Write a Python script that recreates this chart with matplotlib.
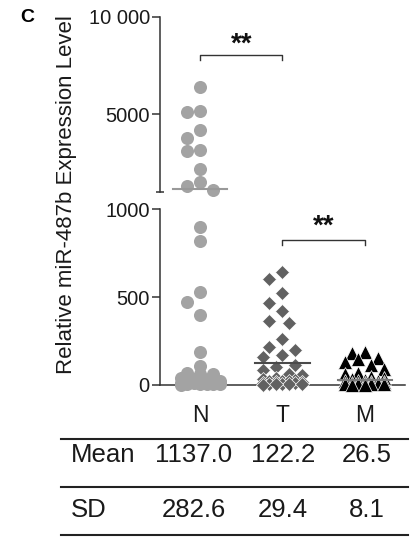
import matplotlib
matplotlib.use("Agg")
import matplotlib.pyplot as plt
import numpy as np
from matplotlib.lines import Line2D

plt.rcParams["font.family"] = ["Liberation Sans", "DejaVu Sans"]

# ── Data ──────────────────────────────────────────────────────────────────────
GROUPS = ["N", "T", "M"]
N_VALUES = [6400, 5150, 5100, 4200, 3800, 3150, 3100, 2200, 1500, 1300, 1100,
            900, 820, 530, 470, 400, 190, 110, 70, 65, 65, 40, 35, 30, 25, 20,
            18, 15, 12, 10, 8, 6, 5, 4, 3, 2]
T_VALUES = [640, 600, 520, 465, 420, 365, 350, 260, 215, 200, 170, 160, 115,
            100, 85, 60, 55, 40, 35, 30, 25, 22, 20, 18, 15, 12, 10, 8, 6, 5,
            4, 3, 2]
M_VALUES = [185, 182, 155, 150, 130, 115, 90, 70, 60, 45, 40, 35, 30, 25, 22,
            20, 18, 15, 12, 10, 8, 6, 5, 4, 3, 2, 1]
MEANS = [1137.0, 122.2, 26.5]
SDS = [282.6, 29.4, 8.1]
STAT_ROWS = ["Mean", "SD"]

UPPER_TICKS = [5000, 10000]
UPPER_TICK_LABELS = ["5000", "10 000"]
LOWER_TICKS = [0, 500, 1000]
BREAK_AT = 1000
Y_MAX = 10000

# ── Styling ───────────────────────────────────────────────────────────────────
W, H = 414, 544
AX_COLOR = "#333333"
TXT = "#1a1a1a"
STYLES = [
    dict(marker="o", ms=9.4, color="#a3a3a3", mec="none", mew=0),
    dict(marker="D", ms=7.6, color="#616161", mec="white", mew=0.5),
    dict(marker="^", ms=9.6, color="#000000", mec="white", mew=0.5),
]
MEAN_COLORS = ["#999999", "#4a4a4a", "#7a7a7a"]


def fx(x):
    return x / W


def fy(y):
    return 1 - y / H


def swarm_offsets(py, diam, step, half_w):
    """Greedy beeswarm in pixel space, allows overlap once the band is full."""
    cands = np.arange(-half_w, half_w + 1e-9, step)
    cands = cands[np.argsort(np.abs(cands), kind="stable")]
    offs = np.zeros(len(py))
    placed = []
    for i in np.argsort(-py):
        best, best_d = 0.0, -1.0
        for c in cands:
            d = min((np.hypot(c - ox, py[i] - oy) for ox, oy in placed), default=np.inf)
            if d >= diam:
                best = c
                break
            if d > best_d:
                best, best_d = c, d
        offs[i] = best
        placed.append((best, py[i]))
    return offs


fig = plt.figure(figsize=(W / 100, H / 100), dpi=100)
ax_hi = fig.add_axes([fx(160), fy(192), 245 / W, 175 / H])
ax_lo = fig.add_axes([fx(160), fy(385), 245 / W, 176 / H])

for ax in (ax_hi, ax_lo):
    ax.set_xlim(-0.485, 2.485)
    ax.patch.set_visible(False)
    for s in ("top", "right"):
        ax.spines[s].set_visible(False)
    for s in ("left", "bottom"):
        ax.spines[s].set_color(AX_COLOR)
        ax.spines[s].set_linewidth(1.1)
    ax.tick_params(axis="y", direction="out", length=5.8, width=1.1,
                   color=AX_COLOR, labelsize=14.5, pad=1.5, labelcolor=TXT)

ax_hi.set_ylim(BREAK_AT, Y_MAX)
ax_hi.spines["bottom"].set_visible(False)
ax_hi.set_xticks([])
ax_hi.set_yticks(UPPER_TICKS)
ax_hi.set_yticklabels(UPPER_TICK_LABELS)
ax_hi.set_yticks([BREAK_AT], minor=True)
ax_hi.tick_params(axis="y", which="minor", direction="inout", length=6,
                  width=1.1, color=AX_COLOR)

ax_lo.set_ylim(0, BREAK_AT)
ax_lo.set_yticks(LOWER_TICKS)
ax_lo.set_xticks(range(len(GROUPS)))
ax_lo.set_xticklabels(GROUPS)
ax_lo.tick_params(axis="x", length=0, pad=14, labelsize=16.5, labelcolor=TXT)

# ── Points ────────────────────────────────────────────────────────────────────
x_unit = ax_lo.transData.transform((1, 0))[0] - ax_lo.transData.transform((0, 0))[0]
for gi, vals in enumerate([N_VALUES, T_VALUES, M_VALUES]):
    vals = np.asarray(vals, dtype=float)
    hi = vals >= BREAK_AT
    py = np.array([(ax_hi if h else ax_lo).transData.transform((0, v))[1]
                   for v, h in zip(vals, hi)])
    offs = swarm_offsets(py, diam=12.5, step=6.5, half_w=19.5) / x_unit
    st = STYLES[gi]
    for ax, mask in ((ax_hi, hi), (ax_lo, ~hi)):
        if mask.any():
            ax.plot(gi + offs[mask], vals[mask], ls="none", marker=st["marker"],
                    ms=st["ms"], color=st["color"], mec=st["mec"],
                    mew=st["mew"], clip_on=False, zorder=3)
    mean_ax = ax_hi if MEANS[gi] >= BREAK_AT else ax_lo
    mean_ax.plot([gi - 0.33, gi + 0.33], [MEANS[gi]] * 2, color=MEAN_COLORS[gi],
                 lw=1.5, clip_on=False, zorder=4)

# ── Significance brackets ─────────────────────────────────────────────────────
ax_hi.plot([0, 0, 1, 1], [7780, 8050, 8050, 7780], color=AX_COLOR, lw=1.0,
           clip_on=False)
ax_hi.text(0.5, 8600, "**", ha="center", va="center", fontsize=20,
           fontweight="bold", color="#111111")
ax_lo.plot([1, 1, 2, 2], [795, 824, 824, 795], color=AX_COLOR, lw=1.0,
           clip_on=False)
ax_lo.text(1.5, 900, "**", ha="center", va="center", fontsize=20,
           fontweight="bold", color="#111111")

# ── Labels ────────────────────────────────────────────────────────────────────
fig.text(fx(67), fy(195), "Relative miR-487b Expression Level", rotation=90,
         ha="center", va="center", fontsize=16, color=TXT)
fig.text(fx(27), fy(17), "C", ha="center", va="center", fontsize=14,
         fontweight="bold")

# ── Stats table ───────────────────────────────────────────────────────────────
for yl in (439, 487, 535):
    fig.add_artist(Line2D([fx(61), fx(408)], [fy(yl)] * 2, color="#222222",
                          lw=1.5))
col_x = [194, 283, 367]
for row_y, name, row in zip((455, 510), STAT_ROWS, (MEANS, SDS)):
    fig.text(fx(71), fy(row_y), name, ha="left", va="center", fontsize=18.5,
             color=TXT)
    for cx, v in zip(col_x, row):
        fig.text(fx(cx), fy(row_y), f"{v:.1f}", ha="center", va="center",
                 fontsize=18.5, color=TXT)

fig.savefig("out.png", dpi=100)
